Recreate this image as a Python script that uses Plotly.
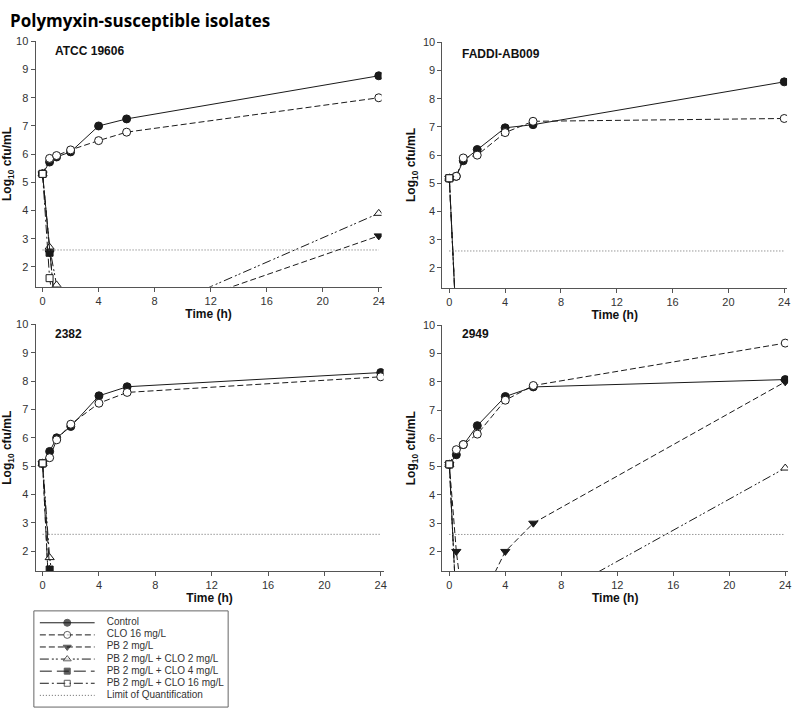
import plotly.graph_objects as go

times = [0, 0.5, 1, 2, 4, 6, 24]

series_names = ["Control", "CLO 16 mg/L", "PB 2 mg/L", "PB 2 mg/L + CLO 2 mg/L",
                "PB 2 mg/L + CLO 4 mg/L", "PB 2 mg/L + CLO 16 mg/L"]
loq_name = "Limit of Quantification"

panel_titles = ["ATCC 19606", "FADDI-AB009", "2382", "2949"]

# values below the quantification floor are recorded as 0 (off the axis)
atcc_control = [5.3, 5.72, 5.9, 6.08, 7.0, 7.25, 8.78]
atcc_clo16 = [5.3, 5.85, 5.95, 6.15, 6.48, 6.78, 8.0]
atcc_pb2 = [5.3, 2.5, 0, 0, 0, 0, 3.1]
atcc_pb2_clo2 = [5.3, 2.7, 1.36, 0, 0, 0, 3.9]
atcc_pb2_clo4 = [5.3, 2.5, 0, 0, 0, 0, 0]
atcc_pb2_clo16 = [5.3, 1.6, 0, 0, 0, 0, 0]

faddi_control = [5.18, 5.25, 5.8, 6.2, 6.97, 7.08, 8.6]
faddi_clo16 = [5.18, 5.25, 5.9, 6.0, 6.8, 7.2, 7.3]
faddi_pb2 = [5.18, 0, 0, 0, 0, 0, 0]
faddi_pb2_clo2 = [5.18, 0, 0, 0, 0, 0, 0]
faddi_pb2_clo4 = [5.18, 0, 0, 0, 0, 0, 0]
faddi_pb2_clo16 = [5.18, 0, 0, 0, 0, 0, 0]

i2382_control = [5.1, 5.52, 6.0, 6.4, 7.48, 7.8, 8.3]
i2382_clo16 = [5.1, 5.3, 5.93, 6.48, 7.22, 7.6, 8.15]
i2382_pb2 = [5.1, 0, 0, 0, 0, 0, 0]
i2382_pb2_clo2 = [5.1, 1.78, 0, 0, 0, 0, 0]
i2382_pb2_clo4 = [5.1, 1.36, 0, 0, 0, 0, 0]
i2382_pb2_clo16 = [5.1, 0, 0, 0, 0, 0, 0]

i2949_control = [5.08, 5.42, 5.78, 6.45, 7.48, 7.82, 8.08]
i2949_clo16 = [5.08, 5.6, 5.78, 6.15, 7.35, 7.87, 9.37]
i2949_pb2 = [5.08, 2.0, 0, 0, 2.0, 3.0, 8.0]
i2949_pb2_clo2 = [5.08, 0, 0, 0, 0, 0, 4.95]
i2949_pb2_clo4 = [5.08, 0, 0, 0, 0, 0, 0]
i2949_pb2_clo16 = [5.08, 0, 0, 0, 0, 0, 0]

loq_value = 2.6
loq_x = [0, 24]

panels = [
    [atcc_control, atcc_clo16, atcc_pb2, atcc_pb2_clo2, atcc_pb2_clo4, atcc_pb2_clo16],
    [faddi_control, faddi_clo16, faddi_pb2, faddi_pb2_clo2, faddi_pb2_clo4, faddi_pb2_clo16],
    [i2382_control, i2382_clo16, i2382_pb2, i2382_pb2_clo2, i2382_pb2_clo4, i2382_pb2_clo16],
    [i2949_control, i2949_clo16, i2949_pb2, i2949_pb2_clo2, i2949_pb2_clo4, i2949_pb2_clo16],
]

LINE = "#1a1a1a"
LOQ_COLOR = "#666666"
styles = [
    dict(dash="solid", symbol="circle", fill=LINE),
    dict(dash="6px,3px", symbol="circle", fill="white"),
    dict(dash="6px,3px", symbol="triangle-down", fill=LINE),
    dict(dash="9px,3px,2px,2px,2px,3px", symbol="triangle-up", fill="white"),
    dict(dash="12px,5px", symbol="square", fill=LINE),
    dict(dash="9px,3px,2px,3px", symbol="square", fill="white"),
]
msize = [8, 8, 8, 8, 7, 7]

fig = go.Figure()
axis_ids = [("x", "y"), ("x2", "y2"), ("x3", "y3"), ("x4", "y4")]

for p, data in enumerate(panels):
    xa, ya = axis_ids[p]
    for s, vals in enumerate(data):
        st = styles[s]
        fig.add_trace(go.Scatter(
            x=times, y=vals, mode="lines+markers", name=series_names[s],
            xaxis=xa, yaxis=ya, showlegend=False,
            line=dict(color=LINE, width=1, dash=st["dash"]),
            marker=dict(symbol=st["symbol"], size=msize[s], color=st["fill"],
                        line=dict(color=LINE, width=1)),
        ))
    fig.add_trace(go.Scatter(
        x=loq_x, y=[loq_value, loq_value], mode="lines", name=loq_name,
        xaxis=xa, yaxis=ya, showlegend=False,
        line=dict(color=LOQ_COLOR, width=1, dash="1px,2px"),
    ))

# ---- compact legend drawn in its own small axis (row index = entry order) ----
legend_rows = list(range(len(series_names) + 1))
sample_x = [0, 0.5, 1]
for s, name in enumerate(series_names):
    st = styles[s]
    fig.add_trace(go.Scatter(
        x=sample_x, y=[legend_rows[s]] * 3, mode="lines+markers", name=name,
        xaxis="x5", yaxis="y5", showlegend=False, hoverinfo="skip",
        line=dict(color=LINE, width=1, dash=st["dash"]),
        marker=dict(symbol=st["symbol"], size=[0, msize[s] - 1, 0], color=st["fill"],
                    line=dict(color=LINE, width=1)),
    ))
fig.add_trace(go.Scatter(
    x=[0, 1], y=[legend_rows[-1]] * 2, mode="lines", name=loq_name,
    xaxis="x5", yaxis="y5", showlegend=False, hoverinfo="skip",
    line=dict(color=LOQ_COLOR, width=1, dash="1px,2px"),
))
fig.add_trace(go.Scatter(
    x=[1.22] * len(legend_rows), y=legend_rows, mode="text",
    text=series_names + [loq_name], textposition="middle right",
    textfont=dict(family="Liberation Sans, Arial", size=10, color="#333333"),
    xaxis="x5", yaxis="y5", showlegend=False, hoverinfo="skip",
))

W, H = 800, 715
xdom = [[35.7 / W, 383 / W], [444 / W, 790 / W], [35.7 / W, 385 / W], [444 / W, 791 / W]]
ydom = [[1 - 283 / H, 1 - 35.7 / H], [1 - 284 / H, 1 - 36.7 / H],
        [1 - 570 / H, 1 - 321 / H], [1 - 570 / H, 1 - 322 / H]]

tickfont = dict(family="Liberation Sans, Arial", size=11, color="#333333")
titlefont = dict(family="Liberation Sans, Arial", size=12, color="#111111")

layout = dict(
    width=W, height=H, margin=dict(l=0, r=0, t=0, b=0),
    paper_bgcolor="white", plot_bgcolor="white",
    showlegend=False,
)

for p in range(4):
    sfx = "" if p == 0 else str(p + 1)
    layout["xaxis" + sfx] = dict(
        domain=xdom[p], range=[-0.5, 24.2], anchor="y" + sfx,
        tickvals=[0, 4, 8, 12, 16, 20, 24], ticks="outside", ticklen=4,
        tickcolor="#555555", showline=True, linecolor="#555555", linewidth=1,
        showgrid=False, zeroline=False, tickfont=tickfont,
        title=dict(text="<b>Time (h)</b>", font=titlefont, standoff=2),
    )
    layout["yaxis" + sfx] = dict(
        domain=ydom[p], range=[1.3, 10], anchor="x" + sfx,
        tickvals=[2, 3, 4, 5, 6, 7, 8, 9, 10], ticks="outside", ticklen=4,
        tickcolor="#555555", showline=True, linecolor="#555555", linewidth=1,
        showgrid=False, zeroline=False, tickfont=tickfont,
        title=dict(text="<b>Log<sub>10</sub> cfu/mL</b>", font=titlefont, standoff=4),
    )

# legend axis: box 34..229 px wide, 610..707 px tall; sample 40..95 px
layout["xaxis5"] = dict(domain=[34 / W, 229 / W], range=[-6 / 55, 189 / 55], anchor="y5",
                        visible=False, fixedrange=True)
layout["yaxis5"] = dict(domain=[1 - 707 / H, 1 - 610 / H], range=[85 / 12.2, -12 / 12.2],
                        anchor="x5", visible=False, fixedrange=True)

fig.update_layout(**layout)

fig.add_shape(type="rect", xref="x5 domain", yref="y5 domain", x0=0, x1=1, y0=0, y1=1,
              line=dict(color="#666666", width=1), fillcolor="rgba(0,0,0,0)")

label_pos = [(53, 45), (462, 48), (53, 331), (462, 331)]
for p, (lx, ly) in enumerate(label_pos):
    fig.add_annotation(
        text="<b>" + panel_titles[p] + "</b>", xref="paper", yref="paper",
        x=lx / W, y=1 - ly / H, xanchor="left", yanchor="middle", showarrow=False,
        font=dict(family="Liberation Sans, Arial", size=12, color="#111111"),
    )

fig.add_annotation(
    text="<b>Polymyxin-susceptible isolates</b>", xref="paper", yref="paper",
    x=8 / W, y=1 - 15 / H, xanchor="left", yanchor="middle", showarrow=False,
    font=dict(family="Open Sans", size=17, color="#000000"),
)

fig.write_html("out.html", config={"displayModeBar": False},
               post_script="document.body.style.margin='0px';")
